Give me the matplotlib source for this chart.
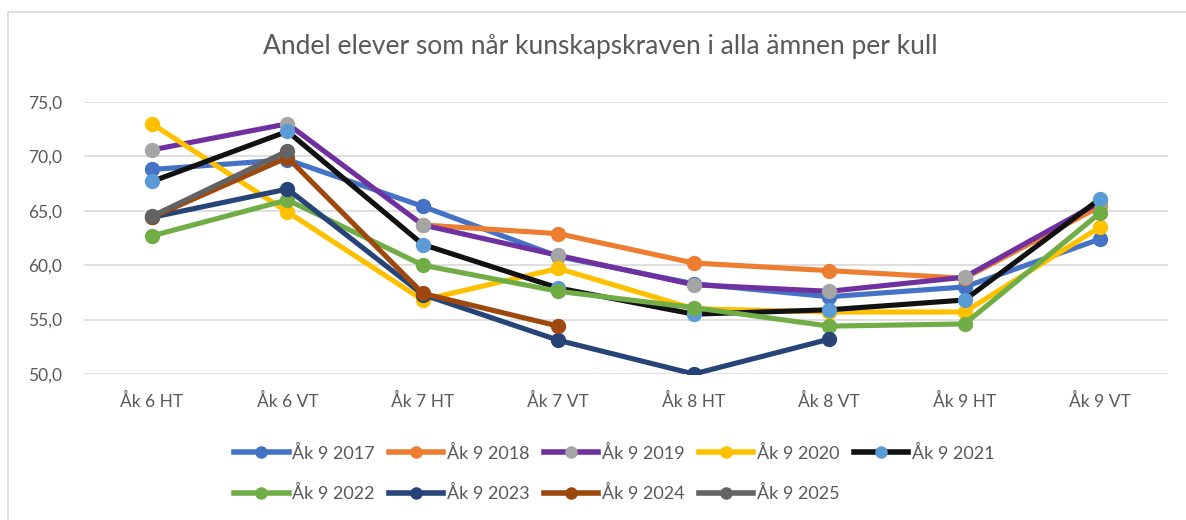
import numpy as np
import matplotlib.pyplot as plt
from matplotlib.lines import Line2D

plt.rcParams['font.family'] = ['Lato', 'DejaVu Sans']

categories = ['Åk 6 HT', 'Åk 6 VT', 'Åk 7 HT', 'Åk 7 VT', 'Åk 8 HT', 'Åk 8 VT', 'Åk 9 HT', 'Åk 9 VT']
nan = np.nan

ak9_2017 = [68.8, 69.7, 65.4, 60.8, 58.3, 57.1, 58.0, 62.4]
ak9_2018 = [nan, nan, 63.7, 62.9, 60.2, 59.5, 58.8, 65.4]
ak9_2019 = [70.6, 73.0, 63.7, 60.9, 58.2, 57.6, 58.9, 65.8]
ak9_2020 = [73.0, 64.9, 56.8, 59.7, 56.0, 55.7, 55.7, 63.5]
ak9_2021 = [67.7, 72.3, 61.9, 57.9, 55.5, 55.9, 56.8, 66.1]
ak9_2022 = [62.7, 66.0, 60.0, 57.6, 56.1, 54.4, 54.6, 64.8]
ak9_2023 = [64.4, 67.0, 57.3, 53.1, 50.0, 53.2, nan, nan]
ak9_2024 = [64.4, 69.9, 57.4, 54.4, nan, nan, nan, nan]
ak9_2025 = [64.5, 70.5, nan, nan, nan, nan, nan, nan]

series = [
    ('Åk 9 2017', ak9_2017, '#4472C4', '#4472C4'),
    ('Åk 9 2018', ak9_2018, '#ED7D31', '#ED7D31'),
    ('Åk 9 2019', ak9_2019, '#7030A0', '#A5A5A5'),
    ('Åk 9 2020', ak9_2020, '#FFC000', '#FFC000'),
    ('Åk 9 2021', ak9_2021, '#111111', '#5B9BD5'),
    ('Åk 9 2022', ak9_2022, '#70AD47', '#70AD47'),
    ('Åk 9 2023', ak9_2023, '#264478', '#264478'),
    ('Åk 9 2024', ak9_2024, '#9E480E', '#9E480E'),
    ('Åk 9 2025', ak9_2025, '#636363', '#636363'),
]

txt = '#595959'
fig = plt.figure(figsize=(11.86, 5.2), dpi=100)
ax = fig.add_axes([0.0711, 0.2808, 0.9846 - 0.0711, 0.8038 - 0.2808])

x = np.arange(len(categories))
handles = []
for i, (name, vals, lc, mc) in enumerate(series):
    ax.plot(x, vals, color=lc, lw=3.7, marker='o', ms=10, mfc=mc, mec=mc,
            zorder=3 + i, solid_capstyle='round')
    handles.append(Line2D([], [], color=lc, lw=4, marker='o', ms=8, mfc=mc, mec=mc))

ax.set_xlim(-0.5, len(categories) - 0.5)
ax.set_ylim(50, 75)
ax.set_yticks(np.arange(50, 76, 5))
ax.set_yticklabels([f'{v:.1f}'.replace('.', ',') for v in np.arange(50, 76, 5)])
ax.set_xticks(x)
ax.set_xticklabels(categories)
ax.tick_params(length=0, colors=txt, labelsize=12.5)
ax.tick_params(axis='y', pad=16)
ax.tick_params(axis='x', pad=14)
ax.grid(axis='y', color='#D9D9D9', lw=1.2)
ax.set_axisbelow(True)
for s in ax.spines.values():
    s.set_visible(False)

fig.text(0.506, 0.91, 'Andel elever som når kunskapskraven i alla ämnen per kull',
         ha='center', va='center', fontsize=19, color=txt)

# reorder so legend fills row by row like the original
order = [0, 5, 1, 6, 2, 7, 3, 8, 4]
fig.legend([handles[i] for i in order], [series[i][0] for i in order],
           loc='upper left', bbox_to_anchor=(0.190, 0.162), ncol=5, frameon=False,
           fontsize=13, labelcolor=txt, handlelength=3.0, handletextpad=0.2,
           columnspacing=0.8, labelspacing=1.3, borderpad=0)

# chart border like Excel
fig.add_artist(Line2D([8 / 1186, 1], [1 - 12 / 520] * 2, color='#D9D9D9', lw=1.2))
fig.add_artist(Line2D([8 / 1186] * 2, [0, 1 - 12 / 520], color='#D9D9D9', lw=1.2))

fig.savefig('out.png', dpi=100)
